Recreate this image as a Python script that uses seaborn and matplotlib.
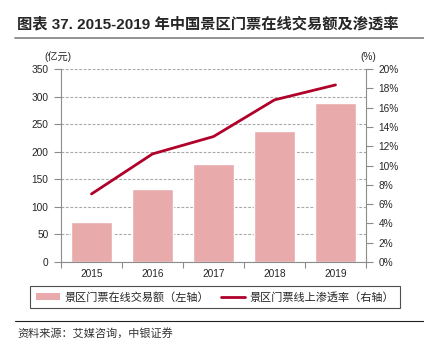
import matplotlib
matplotlib.use("Agg")
import matplotlib.pyplot as plt
import seaborn as sns
import pandas as pd
from matplotlib.lines import Line2D
from matplotlib.ticker import FixedLocator, FuncFormatter

sns.set_style("white")
plt.rcParams['font.family'] = ['Liberation Sans', 'Noto Sans CJK SC', 'DejaVu Sans']

years = ["2015", "2016", "2017", "2018", "2019"]
volume = [72, 132, 178, 237, 288]          # 亿元
penetration = [7.05, 11.2, 13.0, 16.8, 18.35]  # %

title = "图表 37. 2015-2019 年中国景区门票在线交易额及渗透率"
bar_label = "景区门票在线交易额（左轴）"
line_label = "景区门票线上渗透率（右轴）"
source = "资料来源：艾媒咨询，中银证券"
left_unit = "(亿元)"
right_unit = "(%)"

W, H = 424, 355
fig = plt.figure(figsize=(W / 100, H / 100), dpi=100)

bar_color = "#E8AAAA"
line_color = "#B0002A"
grid_color = "#A8A8A8"
spine_color = "#8C8C8C"

ax = fig.add_axes([61 / W, 1 - 262 / H, 305 / W, 193 / H])
df = pd.DataFrame({"year": years, "volume": volume, "rate": penetration})
sns.barplot(data=df, x="year", y="volume", color=bar_color, width=0.667,
            saturation=1, ax=ax, zorder=2)
ax.set_ylim(0, 350)
ax.set_xlim(-0.5, 4.5)
ax.set_yticks(range(0, 351, 50))
ax.yaxis.grid(True, color=grid_color, linestyle=(0, (2.5, 1.5)), linewidth=0.8, zorder=0)
ax.set_axisbelow(True)
ax.set_xlabel("")
ax.set_ylabel("")

ax2 = ax.twinx()
sns.lineplot(data=df, x="year", y="rate", color=line_color, linewidth=2.0,
             ax=ax2, zorder=3)
ax2.set_ylim(0, 20)
ax2.set_yticks(range(0, 21, 2))
ax2.yaxis.set_major_formatter(FuncFormatter(lambda v, p: f"{int(v)}%"))
ax2.set_ylabel("")
ax2.set_xlabel("")
ax.set_xlim(-0.5, 4.5)

for a in (ax, ax2):
    a.spines["top"].set_visible(False)
    for s in ("left", "right", "bottom"):
        a.spines[s].set_color(spine_color)
        a.spines[s].set_linewidth(0.8)
ax.spines["right"].set_visible(False)
ax2.spines["left"].set_visible(False)
ax2.spines["bottom"].set_visible(False)

ax.tick_params(axis="y", which="major", direction="out", length=5, width=0.8,
               color=spine_color, labelsize=7.3, pad=4, left=True)
ax2.tick_params(axis="y", which="major", direction="out", length=5, width=0.8,
                color=spine_color, labelsize=7.3, pad=4, right=True)
ax.tick_params(axis="x", which="major", length=0, labelsize=7.3, pad=5)
ax.xaxis.set_minor_locator(FixedLocator([-0.5, 0.5, 1.5, 2.5, 3.5, 4.5]))
ax.tick_params(axis="x", which="minor", direction="out", length=4, width=0.8,
               color=spine_color, bottom=True)

fig.text(58 / W, 1 - 57 / H, left_unit, ha="center", va="center", fontsize=7.3)
fig.text(368 / W, 1 - 57 / H, right_unit, ha="center", va="center", fontsize=7.3)

# Title and rules
fig.text(17 / W, 1 - 24 / H, title, ha="left", va="center", fontsize=11,
         fontweight="bold")
fig.add_artist(Line2D([15 / W, 1.0], [1 - 37.7 / H] * 2, color="#8A8A8A",
                      linewidth=1.3, transform=fig.transFigure))
fig.add_artist(Line2D([15 / W, 1.0], [1 - 320.5 / H] * 2, color="#222222",
                      linewidth=0.8, transform=fig.transFigure))
fig.text(17 / W, 1 - 333 / H, source, ha="left", va="center", fontsize=8,
         color="#333333", style="italic")

# Legend
from matplotlib.patches import Patch
handles = [Patch(facecolor=bar_color, edgecolor="none"),
           Line2D([], [], color=line_color, linewidth=2.0)]
leg = fig.legend(handles, [bar_label, line_label], ncol=2, loc="center",
                 bbox_to_anchor=(30 / W, 1 - 309 / H, 370 / W, 24 / H),
                 mode="expand", frameon=True, fancybox=False, fontsize=8,
                 handlelength=2.2, handleheight=0.6, handletextpad=0.4,
                 columnspacing=0.9, borderaxespad=0, borderpad=0.5)
leg.get_frame().set_edgecolor("#222222")
leg.get_frame().set_linewidth(0.8)

fig.savefig("out.png", dpi=100)
